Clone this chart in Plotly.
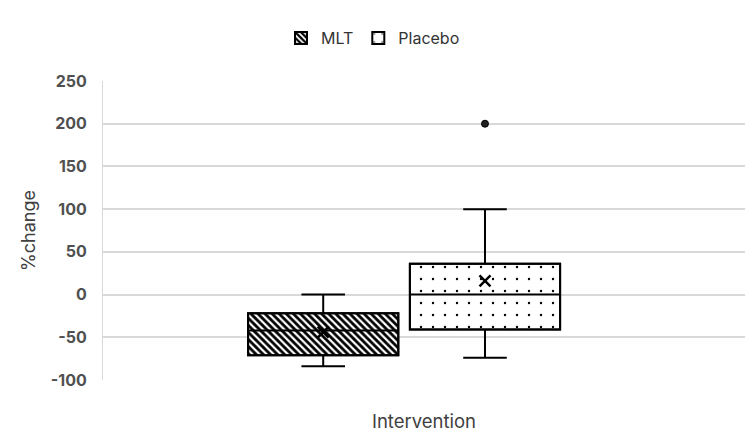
import plotly.graph_objects as go

groups = ["MLT", "Placebo"]
positions = [0.343, 0.595]
q1 = [-71, -41]
median = [-42, 0]
q3 = [-22, 36]
lower = [-84, -74]
upper = [0, 100]
means = [-44, 16]
outlier_x = ["Placebo"]
outlier_y = [200]
patterns = ["\\", "."]
pattern_sizes = [5, 12]
pattern_solid = [0.55, 0.03]
tick_vals = [-100, -50, 0, 50, 100, 150, 200, 250]
tick_text = ["-100", "-50", "0", "50", "100", "150", "200", "250"]

BW = 0.234
fig = go.Figure()

for i, g in enumerate(groups):
    fig.add_trace(go.Bar(
        x=[positions[i]], base=[q1[i]], y=[q3[i] - q1[i]], width=BW, name=g,
        marker=dict(color="white", line=dict(color="black", width=2),
                    pattern=dict(shape=patterns[i], fgcolor="black", bgcolor="white",
                                 fgopacity=1, size=pattern_sizes[i], solidity=pattern_solid[i])),
        hoverinfo="skip"))

for i, g in enumerate(groups):
    fig.add_trace(go.Box(
        x=[positions[i]], q1=[q1[i]], median=[median[i]], q3=[q3[i]],
        lowerfence=[lower[i]], upperfence=[upper[i]], width=BW, whiskerwidth=0.29,
        fillcolor="rgba(0,0,0,0)", line=dict(color="black", width=2),
        showlegend=False, name=g))

fig.add_trace(go.Scatter(
    x=positions, y=means, mode="markers", showlegend=False,
    marker=dict(symbol="x-thin", size=11, line=dict(color="black", width=2.5))))

ox = [positions[groups.index(g)] for g in outlier_x]
fig.add_trace(go.Scatter(
    x=ox, y=outlier_y, mode="markers", showlegend=False,
    marker=dict(symbol="circle", size=7, color="#222", line=dict(color="black", width=1))))

font = dict(family="Inter, Open Sans, sans-serif", size=14, color="#595959")
fig.update_layout(
    width=746, height=446, plot_bgcolor="white", paper_bgcolor="white",
    margin=dict(l=103, r=1, t=81, b=66),
    font=font, barmode="overlay", boxmode="overlay",
    legend=dict(orientation="h", x=0.5, xref="container", xanchor="center",
                y=1 - 21 / 446, yref="container",
                yanchor="top", font=dict(size=16, color="#333333"),
                traceorder="normal"),
    xaxis=dict(range=[0, 1], showticklabels=False, showgrid=False, zeroline=False,
               title=dict(text="Intervention", font=dict(size=18.5, color="#404040"), standoff=35)),
    yaxis=dict(range=[-100, 250], tickvals=tick_vals, ticktext=tick_text,
               showgrid=True, gridcolor="#d9d9d9", gridwidth=1.5,
               zeroline=False, showline=True, linecolor="#d9d9d9", linewidth=1,
               tickfont=dict(size=16, color="#505050", weight="bold"), ticklen=0,
               ticklabelstandoff=12,
               title=dict(text="%change", font=dict(size=18, color="#404040"), standoff=10)),
)
fig.write_html("out.html")
